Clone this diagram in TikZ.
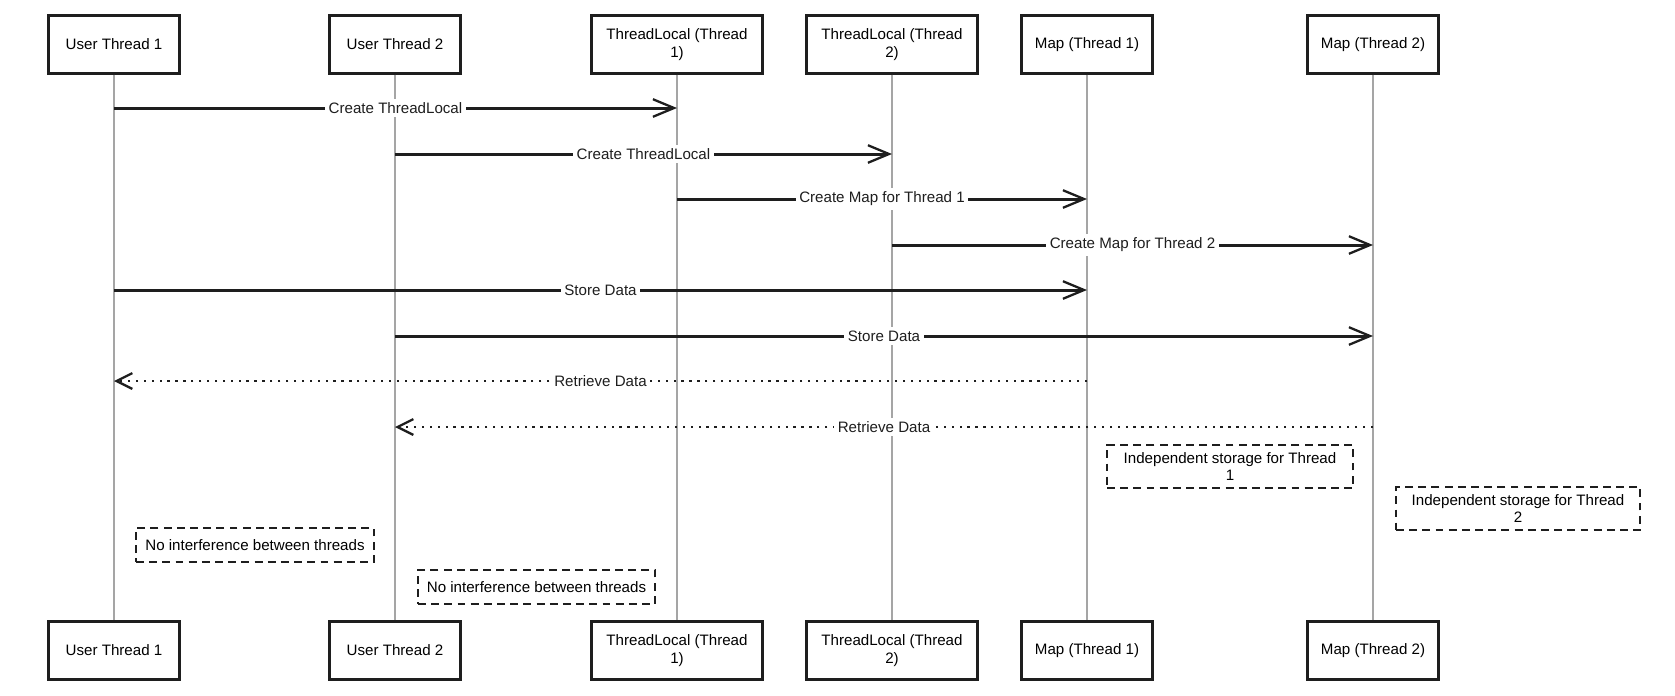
\documentclass[tikz,border=0pt]{standalone}
\usepackage{fontspec}
\setmainfont{Liberation Sans}
\usetikzlibrary{positioning,arrows.meta}
\definecolor{InkBlack}{RGB}{30,30,30}
\definecolor{LifeGray}{RGB}{165,165,165}

\begin{document}
\begin{tikzpicture}[every node/.style={font=\fontsize{8.6}{10}\selectfont},
  actor/.style={draw=InkBlack, line width=1.4pt, fill=white, minimum width=2.62cm, minimum height=1.16cm, align=center, inner sep=1pt},
  wideactor/.style={actor, minimum width=3.42cm},
  life/.style={LifeGray, line width=0.6pt},
  msg/.style={InkBlack, line width=1.7pt, -{Straight Barb[length=12pt,width=10pt,line width=1.3pt]}},
  reply/.style={InkBlack, line width=1.5pt, dash pattern=on 1.3pt off 3.2pt, -{Straight Barb[length=9pt,width=9pt,line width=1.3pt]}},
  lbl/.style={fill=white, inner sep=2pt},
  notebox/.style={draw=InkBlack, line width=1.3pt, dash pattern=on 4.5pt off 3pt, align=center, inner sep=2pt}]
  \useasboundingbox (0,0) rectangle (33.5,-13.9);
  % participants, top and bottom
  \node[actor]     (ut1)  at (2.28,-0.89)  {User Thread 1};
  \node[actor]     (ut2)  at (7.90,-0.89)  {User Thread 2};
  \node[wideactor] (tl1)  at (13.54,-0.89) {ThreadLocal (Thread\\1)};
  \node[wideactor] (tl2)  at (17.84,-0.89) {ThreadLocal (Thread\\2)};
  \node[actor]     (map1) at (21.74,-0.89) {Map (Thread 1)};
  \node[actor]     (map2) at (27.46,-0.89) {Map (Thread 2)};
  \node[actor]     (ut1b)  at (2.28,-13.01)  {User Thread 1};
  \node[actor]     (ut2b)  at (7.90,-13.01)  {User Thread 2};
  \node[wideactor] (tl1b)  at (13.54,-13.01) {ThreadLocal (Thread\\1)};
  \node[wideactor] (tl2b)  at (17.84,-13.01) {ThreadLocal (Thread\\2)};
  \node[actor]     (map1b) at (21.74,-13.01) {Map (Thread 1)};
  \node[actor]     (map2b) at (27.46,-13.01) {Map (Thread 2)};
  \foreach \p in {ut1,ut2,tl1,tl2,map1,map2}
    \draw[life] (\p.south) -- (\p b.north);
  % message rows
  \foreach \r/\y in {1/2.16,2/3.08,3/3.98,4/4.90,5/5.80,6/6.72,7/7.62,8/8.54}
    \coordinate (m\r) at (0,-\y);
  \draw[msg] (ut1 |- m1) -- (tl1 |- m1) node[midway, lbl] {Create ThreadLocal};
  \draw[msg] (ut2 |- m2) -- (tl2 |- m2) node[midway, lbl] {Create ThreadLocal};
  \draw[msg] (tl1 |- m3) -- (map1 |- m3) node[midway, lbl] {Create Map for Thread 1};
  \draw[msg] (tl2 |- m4) -- (map2 |- m4) node[midway, lbl] {Create Map for Thread 2};
  \draw[msg] (ut1 |- m5) -- (map1 |- m5) node[midway, lbl] {Store Data};
  \draw[msg] (ut2 |- m6) -- (map2 |- m6) node[midway, lbl] {Store Data};
  \draw[reply] (map1 |- m7) -- (ut1 |- m7) node[midway, lbl] {Retrieve Data};
  \draw[reply] (map2 |- m8) -- (ut2 |- m8) node[midway, lbl] {Retrieve Data};
  % notes
  \node[notebox, minimum width=4.92cm, minimum height=0.86cm] (store1) at (24.60,-9.33) {Independent storage for Thread\\1};
  \node[notebox, minimum width=4.88cm, minimum height=0.86cm] (store2) at (30.36,-10.17) {Independent storage for Thread\\2};
  \node[notebox, minimum width=4.76cm, minimum height=0.68cm] (noint1) at (5.10,-10.90) {No interference between threads};
  \node[notebox, minimum width=4.74cm, minimum height=0.68cm] (noint2) at (10.73,-11.74) {No interference between threads};
\end{tikzpicture}
\end{document}
